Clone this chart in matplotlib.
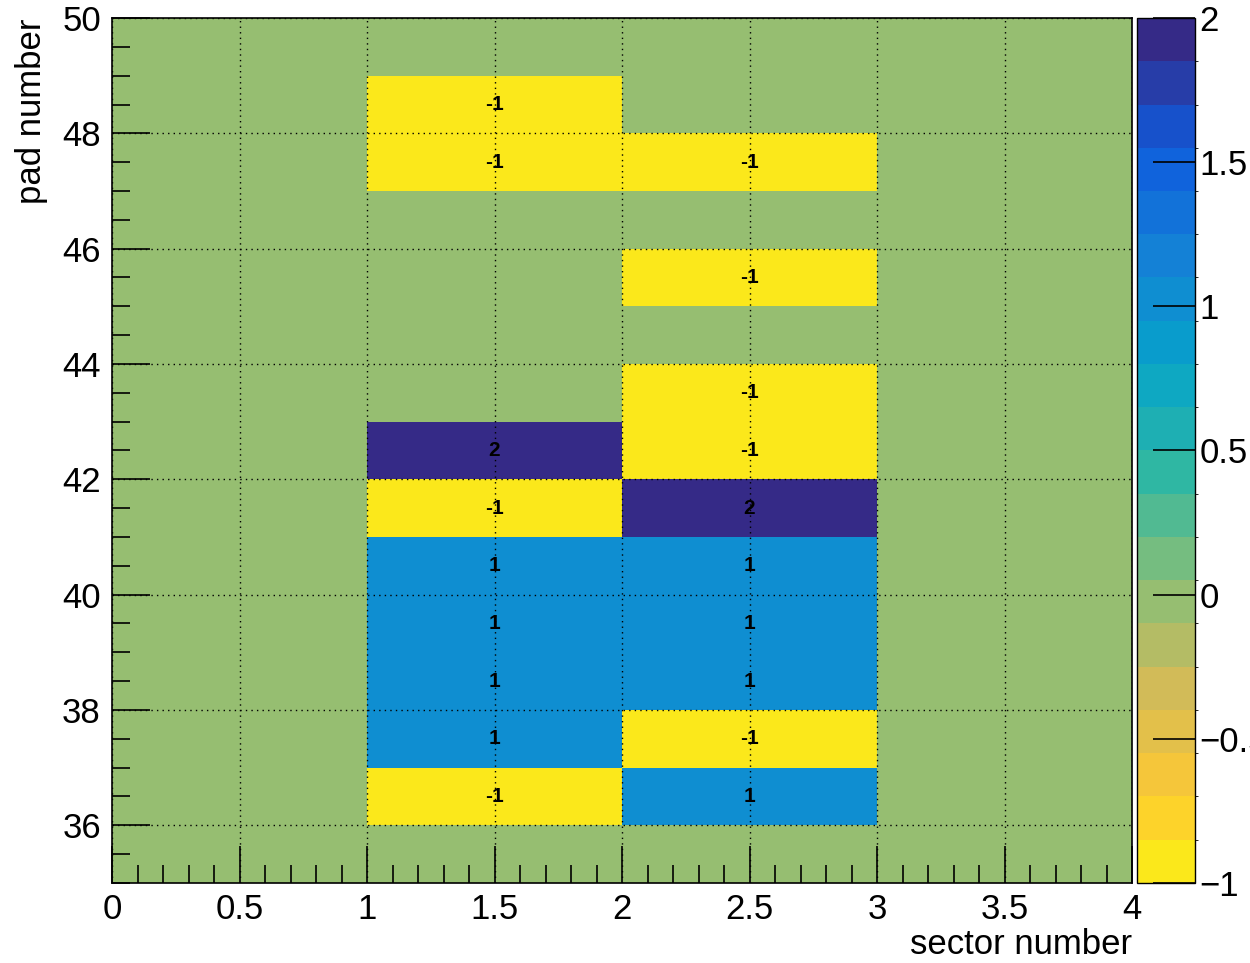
import numpy as np
import matplotlib
matplotlib.use("Agg")
import matplotlib.pyplot as plt
from matplotlib.colors import LinearSegmentedColormap, ListedColormap, BoundaryNorm
from matplotlib.ticker import MultipleLocator, FormatStrFormatter

# histogram binning
sector_edges = [0, 1, 2, 3, 4]
pad_edges = list(range(35, 51))

# filled bins (lower pad edge -> content) for sector bins 1-2 and 2-3
sec1_pads = [48, 47, 42, 41, 40, 39, 38, 37, 36]
sec1_vals = [-1, -1, 2, -1, 1, 1, 1, 1, -1]
sec2_pads = [47, 45, 43, 42, 41, 40, 39, 38, 37, 36]
sec2_vals = [-1, -1, -1, -1, 2, 1, 1, 1, -1, 1]

z_min, z_max, n_contours = -1, 2, 20

# ROOT kBird palette, inverted
stops = [0.0, 0.125, 0.25, 0.375, 0.5, 0.625, 0.75, 0.875, 1.0]
red = [0.2082, 0.0592, 0.0780, 0.0232, 0.1802, 0.5301, 0.8186, 0.9956, 0.9764]
green = [0.1664, 0.3599, 0.5041, 0.6419, 0.7178, 0.7492, 0.7328, 0.7862, 0.9832]
blue = [0.5293, 0.8684, 0.8385, 0.7914, 0.6425, 0.4662, 0.3499, 0.1968, 0.0539]
bird = LinearSegmentedColormap.from_list(
    "bird", list(zip(stops, zip(red, green, blue))))
band_cols = [bird(1 - (i + 0.99) / n_contours) for i in range(n_contours)]
cmap = ListedColormap(band_cols)
levels = np.linspace(z_min, z_max, n_contours + 1)
norm = BoundaryNorm(levels, cmap.N)

# fill the 2D array
z = np.zeros((len(pad_edges) - 1, len(sector_edges) - 1))
for p, v in zip(sec1_pads, sec1_vals):
    z[p - 35, 1] = v
for p, v in zip(sec2_pads, sec2_vals):
    z[p - 35, 2] = v

plt.rcParams["font.family"] = ["Liberation Sans", "DejaVu Sans"]

fig = plt.figure(figsize=(12.5, 9.63), dpi=100)
ax = fig.add_axes([0.0896, 0.0831, 0.816, 0.8982])
cax = fig.add_axes([0.9096, 0.0831, 0.0464, 0.8982])

mesh = ax.pcolormesh(sector_edges, pad_edges, z, cmap=cmap, norm=norm)

# bin contents as text
for iy in range(z.shape[0]):
    for ix in range(z.shape[1]):
        if z[iy, ix] != 0:
            ax.text(ix + 0.5, pad_edges[iy] + 0.5, f"{z[iy, ix]:g}",
                    ha="center", va="center", fontsize=15, fontweight="bold")

ax.set_xlim(0, 4)
ax.set_ylim(35, 50)
ax.xaxis.set_major_locator(MultipleLocator(0.5))
ax.xaxis.set_minor_locator(MultipleLocator(0.1))
ax.xaxis.set_major_formatter(FormatStrFormatter("%g"))
ax.yaxis.set_major_locator(MultipleLocator(2))
ax.yaxis.set_minor_locator(MultipleLocator(0.5))
ax.tick_params(which="both", direction="in", top=False, right=False,
               labelsize=25, width=1.2)
ax.tick_params(axis="x", pad=7)
ax.tick_params(axis="y", pad=8)
ax.tick_params(which="major", length=27)
ax.tick_params(which="minor", length=13)
ax.grid(True, which="major", color="black", linestyle=(0, (1, 3)),
        linewidth=1.0)
ax.set_axisbelow(False)
for s in ax.spines.values():
    s.set_linewidth(1.2)

ax.set_xlabel("sector number", fontsize=25, loc="right", labelpad=2)
ax.set_ylabel("pad number", fontsize=25, loc="top", labelpad=10)

cb = fig.colorbar(mesh, cax=cax, ticks=[-1, -0.5, 0, 0.5, 1, 1.5, 2])
cb.ax.set_yticklabels(["\u22121", "\u22120.5", "0", "0.5", "1", "1.5", "2"])
cb.ax.tick_params(direction="in", length=30, width=1.2, labelsize=25, pad=3)
cb.outline.set_linewidth(1.0)

fig.savefig("out.png", dpi=100)
